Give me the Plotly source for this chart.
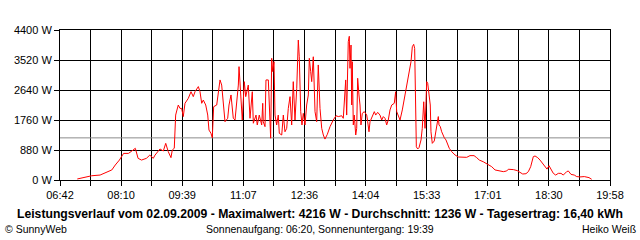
import plotly.graph_objects as go

# time of day in minutes after midnight, power in W
minutes = [427, 431, 438, 448, 460, 470, 477, 482, 488, 494, 501, 506, 511, 515, 520, 527, 532, 537,
           539.5, 546.7, 551.5, 555, 558.7, 562.6, 564.5, 567.4, 569.4, 570.9, 573.2, 575.7, 578.1, 580.4,
           582.9, 587.7, 591.6, 594.9, 597.4, 602.2, 604.6, 607.1, 609.4, 612.9, 615.8, 617.6, 620.5, 622.4,
           624.4, 628.8, 631.1, 633.6, 636, 638.3, 640.8, 644.7, 646.6, 649.5, 652.8, 655.3, 657.7, 660.1,
           661.1, 662.9, 665, 665.8, 668.7, 670.8, 674.5, 677, 680.3, 681.8,
           685.7, 687.5, 690.4, 693.9, 695.4, 696.2, 698.7, 700.1, 703.5, 704.9, 706.9, 708.4, 709.8, 711.7,
           713.2, 715.6, 717.9, 719.4, 722.9, 725.2, 727.6, 730.1, 732.4, 734.9, 737.3, 739.6, 742.1, 744.6,
           746, 746.9, 748.3, 750.4, 752.2, 754.1, 756.6, 759, 761.4, 762.8, 764.8, 766.3, 768.6, 771.1,
           773.5, 775.8, 778.3, 780.8, 783.1, 785.5, 788.9, 792.8, 797.5, 801.4, 804.8, 809.7, 812, 814.5,
           815.5, 816.9, 819.2, 820.7, 821.7, 823.2, 824.2, 825, 826.5, 827.9, 830, 831.4, 832.8, 834.7,
           836.2, 837.6, 839.5, 842.4, 845.9, 847.3, 849.2, 850.7, 853.1, 856.9, 858.9, 861.8, 865.1, 867.6,
           869.9, 872.4, 874.8, 877.1, 879.6, 882.1, 885.8, 887.8, 889.3, 891.6, 894.1, 897.4, 900.3, 903.8,
           907.1, 910, 911.9, 913.9, 915.3, 916.8, 917.7, 919.7, 921.6, 924.5, 926.3, 928.4, 929.2, 930.3,
           931.7, 932.7, 934.2, 936, 937.9, 938.9, 940.8, 943.7, 945.7, 948.6, 949.5, 950.5, 952.4, 954.4,
           955.3, 958.2,
           960.6, 962.5, 965.4, 968.9, 973.7, 978.4, 983.4, 990.6, 995.4, 1001.2, 1005.1, 1008.8, 1014.6,
           1021.9, 1026.8, 1031.6, 1037.8, 1043.6, 1048.5, 1050.8, 1058.1, 1063.8, 1067.7, 1071.7, 1076.4,
           1079.8, 1083.2, 1087, 1089.5, 1093.4, 1096.7, 1100, 1103.9, 1106.8, 1109.7, 1112.6, 1116, 1119.4,
           1123.2, 1127.1, 1130.4, 1135.3, 1137.7, 1141.6, 1146.3, 1149.8, 1154.6, 1160.8, 1164.3, 1167.6,
           1171.5]
power = [30, 50, 70, 125, 145, 225, 295, 440, 585, 780, 780, 850, 930, 635, 585, 635, 730, 635,
         730, 910, 850, 1075, 830, 655, 880, 930, 1905, 2025, 2200, 2100, 2100, 1860,
         2250, 2395, 2590, 2445, 2590, 2740, 2590, 2250, 2345, 2200, 1905, 1465, 1370, 1240,
         2150, 2200, 2590, 2935, 2785, 2200, 1710, 1810, 2200, 2495, 1810, 1760, 2295, 2785,
         3325, 2785, 2200, 1760, 2885, 2445, 2785, 1810, 2590, 1665,
         1905, 1615, 1905, 1615, 2250, 1710, 1565, 2935, 2935, 2250, 1225, 3570, 3180, 3470,
         1905, 1615, 1905, 1370, 1320, 1905, 1415, 1515, 2100, 2445, 1615, 2885, 1760, 2690,
         3470, 4105, 3615, 2005, 1615, 1955, 1615, 2200, 2495, 3570, 3180, 2885, 3615, 2005,
         1710, 3375, 2100, 1515, 1320, 1200, 1340, 1565, 1760, 1885, 1860, 1885, 1810, 2640,
         2935, 1905, 4057, 4216, 3275, 3960, 2200, 3470, 1615, 1905, 1320, 1515, 2985, 2495,
         2200, 1615, 1955, 2005, 1905, 1710, 1415, 1710, 1810, 2005, 1905, 1985, 1905, 1760,
         1860, 1810, 1615, 1760, 2055, 2200, 2250, 2590, 2005, 1860, 1760, 2055, 2395, 2690,
         3130, 3470, 3910, 3980, 3860, 2395, 975, 910, 950, 1175, 1515, 2295, 1710, 1515,
         2295, 2885, 2835, 2590, 2200, 1415, 1075, 1145, 1415, 1710, 1860, 1615, 1565, 1415,
         1370, 1240,
         1175, 1075, 930, 830, 735, 675, 665, 665, 715, 715, 655, 585, 535,
         440, 390, 295, 265, 245, 265, 315, 305, 275, 225, 175, 185,
         245, 390, 685, 705, 655, 585, 490, 390, 320, 420, 295, 195, 145,
         195, 195, 145, 245, 265, 165, 145, 100, 90, 100, 80, 70,
         20]

average_w = 1236
x_start, x_end = 402, 1198  # 06:42 .. 19:58
x_labels = ["06:42", "08:10", "09:39", "11:07", "12:36", "14:04", "15:33", "17:01", "18:30", "19:58"]
y_values = [0, 880, 1760, 2640, 3520, 4400]
y_labels = ["0 W", "880 W", "1760 W", "2640 W", "3520 W", "4400 W"]

title_text = ("Leistungsverlauf vom 02.09.2009 - Maximalwert: 4216 W - Durchschnitt: 1236 W"
              " - Tagesertrag: 16,40 kWh")
left_text = "© SunnyWeb"
center_text = "Sonnenaufgang: 06:20, Sonnenuntergang: 19:39"
right_text = "Heiko Weiß"

n = 2 * (len(x_labels) - 1)
tickvals = [x_start + k * (x_end - x_start) / n for k in range(n + 1)]
ticktext = [x_labels[k // 2] if k % 2 == 0 else "" for k in range(n + 1)]

FONT = "Liberation Sans"

fig = go.Figure()
fig.add_trace(go.Scatter(x=[x_start, x_end], y=[average_w, average_w], mode="lines",
                         line=dict(color="#8c8c8c", width=1), hoverinfo="skip"))
fig.add_trace(go.Scatter(x=minutes, y=power, mode="lines",
                         line=dict(color="#ff0000", width=1)))

fig.update_layout(
    width=640, height=240,
    margin=dict(l=60, r=30, t=30, b=60),
    paper_bgcolor="white", plot_bgcolor="white",
    showlegend=False,
    font=dict(family=FONT, size=11, color="black"),
)
fig.update_xaxes(range=[x_start, x_end], tickmode="array", tickvals=tickvals, ticktext=ticktext,
                 showgrid=True, gridcolor="black", gridwidth=1,
                 showline=True, linecolor="black", linewidth=1, mirror=True,
                 ticks="outside", ticklen=5, tickcolor="black", zeroline=False,
                 tickfont=dict(family=FONT, size=11, color="black"))
fig.update_yaxes(range=[0, 4400], tickmode="array", tickvals=y_values, ticktext=y_labels,
                 showgrid=True, gridcolor="black", gridwidth=1,
                 showline=True, linecolor="black", linewidth=1, mirror=True,
                 ticks="outside", ticklen=5, tickcolor="black", zeroline=False,
                 tickfont=dict(family=FONT, size=11, color="black"))

fig.add_annotation(text="<b>" + title_text + "</b>", xref="paper", yref="paper",
                   x=(320 - 60) / 550, y=(180 - 214) / 150, xanchor="center", yanchor="middle",
                   showarrow=False, borderpad=0, font=dict(family=FONT, size=12.2, color="black"))
fig.add_annotation(text=left_text, xref="paper", yref="paper",
                   x=(4 - 60) / 550, y=(180 - 228.5) / 150, xanchor="left", yanchor="middle",
                   showarrow=False, borderpad=0, font=dict(family=FONT, size=10.5, color="black"))
fig.add_annotation(text=center_text, xref="paper", yref="paper",
                   x=(320 - 60) / 550, y=(180 - 228.5) / 150, xanchor="center", yanchor="middle",
                   showarrow=False, borderpad=0, font=dict(family=FONT, size=10.5, color="black"))
fig.add_annotation(text=right_text, xref="paper", yref="paper",
                   x=(637 - 60) / 550, y=(180 - 228.5) / 150, xanchor="right", yanchor="middle",
                   showarrow=False, borderpad=0, font=dict(family=FONT, size=10.5, color="black"))

fig.write_html("out.html")
